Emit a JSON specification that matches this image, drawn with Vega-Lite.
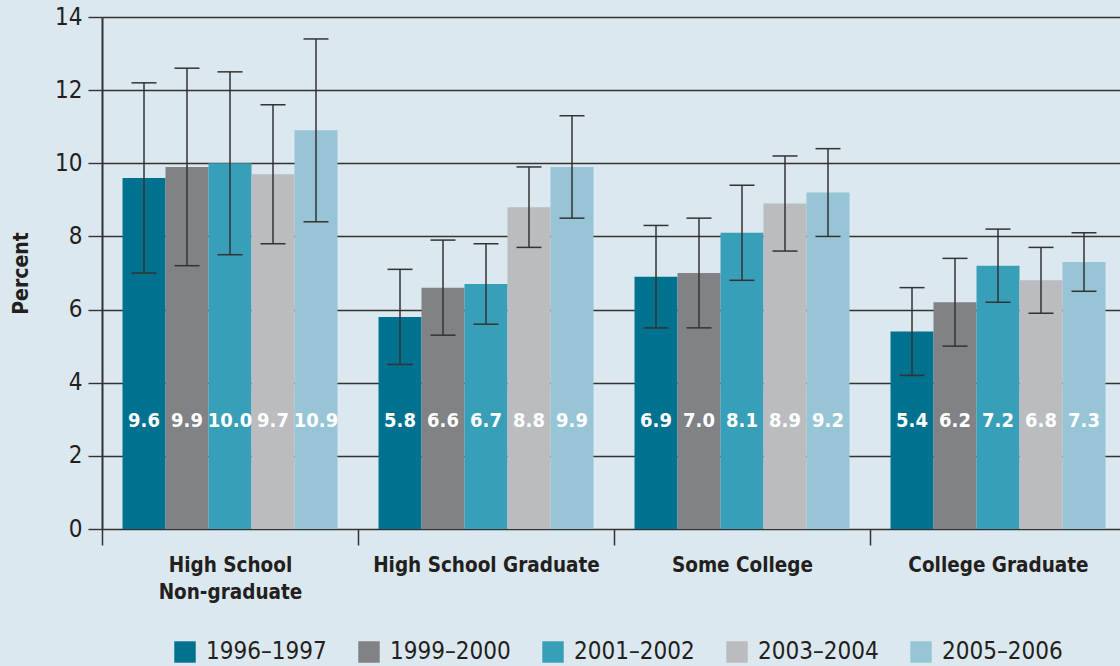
{
  "$schema": "https://vega.github.io/schema/vega-lite/v6.json",
  "autosize": {"type": "none"},
  "width": 1018,
  "height": 512,
  "padding": {"left": 102, "top": 17, "right": 0, "bottom": 137},
  "background": "#dbe8ef",
  "config": {
    "view": {"stroke": null},
    "font": "DejaVu Sans Condensed, sans-serif"
  },
  "data": {
    "values": [
      {"group": "High School Non-graduate", "period": "1996–1997", "value": 9.6, "lo": 7.0, "hi": 12.2},
      {"group": "High School Non-graduate", "period": "1999–2000", "value": 9.9, "lo": 7.2, "hi": 12.6},
      {"group": "High School Non-graduate", "period": "2001–2002", "value": 10.0, "lo": 7.5, "hi": 12.5},
      {"group": "High School Non-graduate", "period": "2003–2004", "value": 9.7, "lo": 7.8, "hi": 11.6},
      {"group": "High School Non-graduate", "period": "2005–2006", "value": 10.9, "lo": 8.4, "hi": 13.4},
      {"group": "High School Graduate", "period": "1996–1997", "value": 5.8, "lo": 4.5, "hi": 7.1},
      {"group": "High School Graduate", "period": "1999–2000", "value": 6.6, "lo": 5.3, "hi": 7.9},
      {"group": "High School Graduate", "period": "2001–2002", "value": 6.7, "lo": 5.6, "hi": 7.8},
      {"group": "High School Graduate", "period": "2003–2004", "value": 8.8, "lo": 7.7, "hi": 9.9},
      {"group": "High School Graduate", "period": "2005–2006", "value": 9.9, "lo": 8.5, "hi": 11.3},
      {"group": "Some College", "period": "1996–1997", "value": 6.9, "lo": 5.5, "hi": 8.3},
      {"group": "Some College", "period": "1999–2000", "value": 7.0, "lo": 5.5, "hi": 8.5},
      {"group": "Some College", "period": "2001–2002", "value": 8.1, "lo": 6.8, "hi": 9.4},
      {"group": "Some College", "period": "2003–2004", "value": 8.9, "lo": 7.6, "hi": 10.2},
      {"group": "Some College", "period": "2005–2006", "value": 9.2, "lo": 8.0, "hi": 10.4},
      {"group": "College Graduate", "period": "1996–1997", "value": 5.4, "lo": 4.2, "hi": 6.6},
      {"group": "College Graduate", "period": "1999–2000", "value": 6.2, "lo": 5.0, "hi": 7.4},
      {"group": "College Graduate", "period": "2001–2002", "value": 7.2, "lo": 6.2, "hi": 8.2},
      {"group": "College Graduate", "period": "2003–2004", "value": 6.8, "lo": 5.9, "hi": 7.7},
      {"group": "College Graduate", "period": "2005–2006", "value": 7.3, "lo": 6.5, "hi": 8.1}
    ]
  },
  "encoding": {
    "x": {
      "field": "group",
      "type": "nominal",
      "sort": null,
      "scale": {"range": [0, 1024], "paddingInner": 0, "paddingOuter": 0},
      "axis": {
        "title": null,
        "labelAngle": 0,
        "tickBand": "extent",
        "domain": false,
        "ticks": true,
        "tickSize": 16,
        "tickColor": "#333333",
        "tickWidth": 1.5,
        "labelPadding": 10,
        "labelFontSize": 20.5,
        "labelFontWeight": "bold",
        "labelColor": "#231f20",
        "labelLineHeight": 27,
        "labelBaseline": "top",
        "labelLimit": 400,
        "labelExpr": "datum.label == 'High School Non-graduate' ? ['High School', 'Non-graduate'] : datum.label"
      }
    },
    "xOffset": {"field": "period", "type": "nominal", "sort": null, "scale": {"paddingInner": 0, "paddingOuter": 0.477}}
  },
  "layer": [
    {
      "mark": {"type": "bar"},
      "encoding": {
        "y": {
          "field": "value",
          "type": "quantitative",
          "scale": {"domain": [0, 14], "nice": false},
          "axis": {
            "title": "Percent",
            "titleFontSize": 21,
            "titleFontWeight": "bold",
            "titleColor": "#231f20",
            "titleX": -81,
            "titleY": 256,
            "titleBaseline": "middle",
            "values": [0, 2, 4, 6, 8, 10, 12, 14],
            "grid": true,
            "gridColor": "#333333",
            "gridWidth": 1.4,
            "domain": true,
            "domainColor": "#333333",
            "domainWidth": 2,
            "tickSize": 14,
            "tickColor": "#333333",
            "tickWidth": 1.4,
            "labelFontSize": 24,
            "labelColor": "#231f20",
            "labelPadding": 6
          }
        },
        "color": {
          "field": "period",
          "type": "nominal",
          "sort": null,
          "scale": {"range": ["#00718f", "#808285", "#389fb8", "#bbbcc0", "#97c5d6"]},
          "legend": {
            "title": null,
            "orient": "none",
            "direction": "horizontal",
            "legendX": 71,
            "legendY": 623,
            "symbolType": "square",
            "symbolSize": 460,
            "symbolStrokeWidth": 0,
            "symbolOpacity": 1,
            "labelFontSize": 24,
            "labelColor": "#231f20",
            "labelOffset": 9,
            "columnPadding": 30
          }
        }
      }
    },
    {
      "mark": {"type": "rule", "color": "#333333", "strokeWidth": 1.5},
      "encoding": {
        "y": {"field": "lo", "type": "quantitative"},
        "y2": {"field": "hi"}
      }
    },
    {
      "mark": {"type": "tick", "color": "#333333", "size": 25, "thickness": 1.5, "opacity": 1},
      "encoding": {"y": {"field": "lo", "type": "quantitative"}}
    },
    {
      "mark": {"type": "tick", "color": "#333333", "size": 25, "thickness": 1.5, "opacity": 1},
      "encoding": {"y": {"field": "hi", "type": "quantitative"}}
    },
    {
      "mark": {"type": "text", "color": "white", "fontSize": 20, "fontWeight": "bold", "baseline": "middle"},
      "encoding": {
        "y": {"datum": 2.95, "type": "quantitative"},
        "text": {"field": "value", "type": "quantitative", "format": ".1f"}
      }
    }
  ]
}
